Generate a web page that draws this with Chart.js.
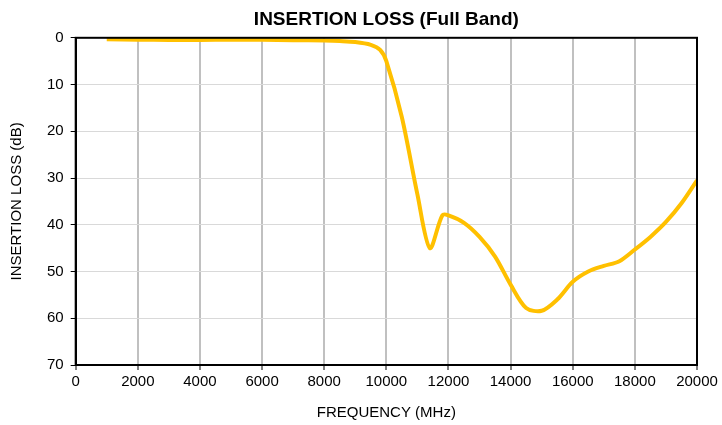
<!DOCTYPE html>
<html>
<head>
<meta charset="utf-8">
<script src="https://cdn.jsdelivr.net/npm/chart.js@4"></script>
<style>
  html, body { margin: 0; padding: 0; background: #fff; }
  #wrap { width: 722px; height: 425px; }
</style>
</head>
<body>
<div id="wrap"><canvas id="lossChart"></canvas></div>
<script>
// values
const freqMHz = [1000, 2000, 3000, 4000, 5000, 6000, 7000, 8000, 8500, 9000, 9500, 9800, 10000, 10500, 11000, 11400, 11800, 12000, 12500, 13000, 13500, 14000, 14500, 15000, 15500, 16000, 16500, 17000, 17500, 18000, 18500, 19000, 19500, 20000];
const lossDb = [0.3, 0.4, 0.45, 0.45, 0.4, 0.4, 0.5, 0.6, 0.7, 0.9, 1.5, 2.6, 5, 17, 33.5, 45, 38, 38, 39.6, 42.6, 46.8, 52.8, 57.8, 58.4, 56, 52.2, 50, 48.8, 47.8, 45.3, 42.6, 39.4, 35.4, 30.5];
const xTicks = [0, 2000, 4000, 6000, 8000, 10000, 12000, 14000, 16000, 18000, 20000];
const yTicks = [0, 10, 20, 30, 40, 50, 60, 70];

const points = freqMHz.map((f, i) => ({ x: f, y: lossDb[i] }));

// black box round the whole plot area
const frame = {
    id: "frame",
    afterDraw(chart) {
        const { ctx, chartArea: a } = chart;
        ctx.save();
        ctx.strokeStyle = "#000";
        ctx.lineWidth = 2;
        ctx.strokeRect(a.left, a.top, a.right - a.left, a.bottom - a.top);
        ctx.restore();
    }
};

const font = "'Liberation Sans', Arial, sans-serif";

new Chart(document.getElementById("lossChart").getContext("2d"), {
    type: "line",
    data: {
        datasets: [{
            label: "Insertion loss",
            data: points,
            borderColor: "#FFC000",
            borderWidth: 4,
            pointRadius: 0,
            tension: 0.3,
            fill: false,
        }],
    },
    options: {
        responsive: true,
        maintainAspectRatio: false,
        animation: false,
        layout: { padding: { left: 8, right: 25, top: 8, bottom: 3 } },
        scales: {
            x: {
                type: "linear",
                min: 0,
                max: 20000,
                afterBuildTicks: (s) => { s.ticks = xTicks.map(v => ({ value: v })); },
                ticks: { color: "#000", font: { family: font, size: 15 }, padding: 3, maxRotation: 0, callback: (v) => String(v) },
                grid: { color: "#c0c0c0", lineWidth: 2, tickColor: "#000", tickLength: 5, tickWidth: 1 },
                border: { color: "#000", width: 2 },
                title: { display: true, text: "FREQUENCY (MHz)", color: "#000", font: { family: font, size: 15 }, padding: { top: 10, bottom: 0 } },
            },
            y: {
                reverse: true,
                min: 0,
                max: 70,
                afterBuildTicks: (s) => { s.ticks = yTicks.map(v => ({ value: v })); },
                ticks: { color: "#000", font: { family: font, size: 15 }, padding: 7 },
                grid: { color: "#d9d9d9", lineWidth: 1, tickColor: "#000", tickLength: 5, tickWidth: 1 },
                border: { color: "#000", width: 2 },
                title: { display: true, text: "INSERTION LOSS (dB)", color: "#000", font: { family: font, size: 15 }, padding: { top: 0, bottom: 14 } },
            },
        },
        plugins: {
            legend: { display: false },
            tooltip: { enabled: false },
            title: {
                display: true,
                fullSize: false,
                text: "INSERTION LOSS (Full Band)",
                color: "#000",
                font: { family: font, size: 19, weight: "bold" },
                padding: { top: 0, bottom: 7 },
            },
        },
    },
    plugins: [frame],
});
</script>
</body>
</html>
